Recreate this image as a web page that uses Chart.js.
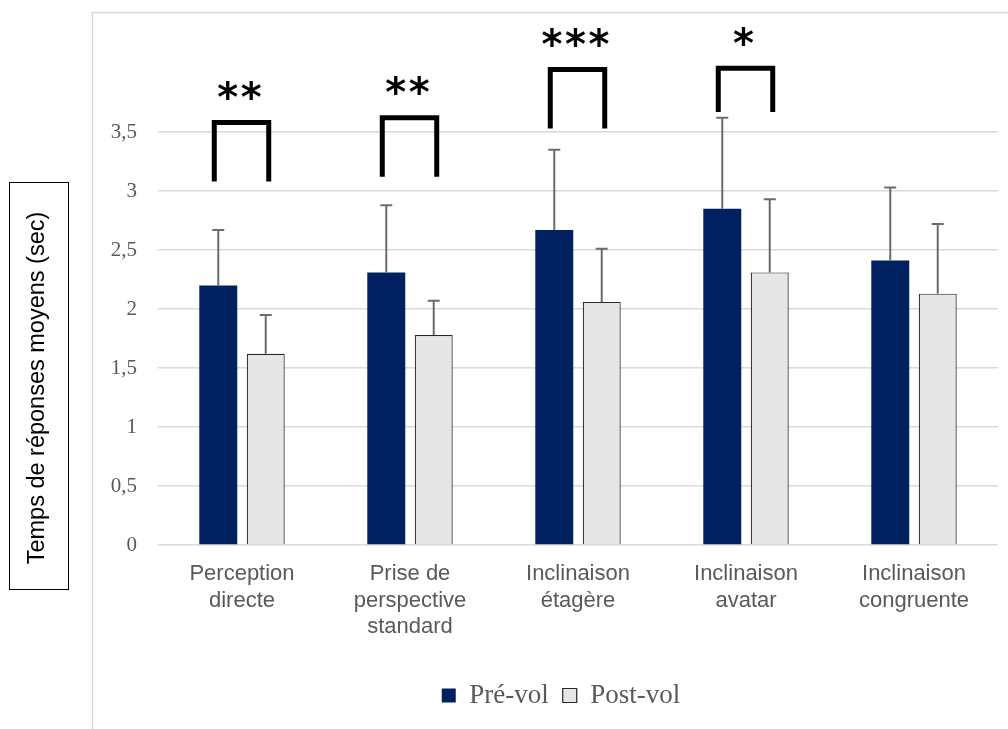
<!DOCTYPE html>
<html>
<head>
<meta charset="utf-8">
<script src="https://cdn.jsdelivr.net/npm/chart.js@4"></script>
<style>
  html, body { margin: 0; padding: 0; background: #fff; }
  #wrap { width: 1008px; height: 729px; position: relative; }
</style>
</head>
<body>
<div id="wrap"><canvas id="chart" width="1008" height="729"></canvas></div>
<script>
const categories = [
  ['Perception', 'directe'],
  ['Prise de', 'perspective', 'standard'],
  ['Inclinaison', 'étagère'],
  ['Inclinaison', 'avatar'],
  ['Inclinaison', 'congruente']
];
const preVol = [2.20, 2.31, 2.67, 2.85, 2.41];
const postVol = [1.62, 1.78, 2.06, 2.31, 2.13];
const preVolSd = [0.47, 0.57, 0.68, 0.77, 0.62];
const postVolSd = [0.33, 0.29, 0.45, 0.62, 0.59];
const yTicks = [0, 0.5, 1, 1.5, 2, 2.5, 3, 3.5];
const axisTitle = 'Temps de réponses moyens (sec)';

// significance brackets: category, leg bottom, bar top, stars
const sigCategory = [0, 1, 2, 3];
const sigLow = [3.08, 3.12, 3.53, 3.67];
const sigHigh = [3.58, 3.62, 4.03, 4.04];
const sigStars = ['**', '**', '***', '*'];

const NAVY = '#002060';
const LIGHT = '#e6e6e6';
const GRID = '#d9d9d9';
const TEXT = '#595959';

// frame around the plot and the boxed y title
const decorations = {
  id: 'decorations',
  afterLayout(chart) {
    // legend sits a little right of the canvas centre
    chart.legend.left += 16;
    chart.legend.right += 16;
  },
  beforeDraw(chart) {
    const ctx = chart.ctx;
    ctx.save();
    ctx.strokeStyle = GRID;
    ctx.lineWidth = 1.5;
    ctx.beginPath();
    ctx.moveTo(92.5, 729);
    ctx.lineTo(92.5, 12.5);
    ctx.lineTo(1008, 12.5);
    ctx.stroke();

    ctx.strokeStyle = '#000';
    ctx.lineWidth = 1;
    ctx.strokeRect(9.5, 182.5, 59, 407);
    ctx.translate(38, 388);
    ctx.rotate(-Math.PI / 2);
    ctx.fillStyle = '#000';
    ctx.font = '23.5px "Liberation Sans", Arial, sans-serif';
    ctx.textAlign = 'center';
    ctx.textBaseline = 'middle';
    ctx.fillText(axisTitle, 0, 0);
    ctx.restore();
  }
};

// upper error bars and significance brackets
const annotations = {
  id: 'annotations',
  afterDatasetsDraw(chart) {
    const ctx = chart.ctx;
    const y = chart.scales.y;
    const sds = [preVolSd, postVolSd];
    ctx.save();
    ctx.strokeStyle = '#6b6b6b';
    ctx.lineWidth = 2;
    chart.data.datasets.forEach((ds, di) => {
      chart.getDatasetMeta(di).data.forEach((bar, i) => {
        const top = y.getPixelForValue(ds.data[i] + sds[di][i]);
        ctx.beginPath();
        ctx.moveTo(bar.x, bar.y);
        ctx.lineTo(bar.x, top);
        ctx.moveTo(bar.x - 6, top);
        ctx.lineTo(bar.x + 6, top);
        ctx.stroke();
      });
    });

    const pre = chart.getDatasetMeta(0).data;
    const post = chart.getDatasetMeta(1).data;
    ctx.strokeStyle = '#000';
    ctx.lineWidth = 5;
    ctx.fillStyle = '#000';
    ctx.font = 'bold 40px "DejaVu Sans", sans-serif';
    ctx.textAlign = 'center';
    ctx.textBaseline = 'middle';
    sigCategory.forEach((c, k) => {
      const x1 = pre[c].x - 4;
      const x2 = post[c].x + 3;
      const yLow = y.getPixelForValue(sigLow[k]);
      const yHigh = y.getPixelForValue(sigHigh[k]);
      ctx.beginPath();
      ctx.moveTo(x1, yLow);
      ctx.lineTo(x1, yHigh);
      ctx.lineTo(x2, yHigh);
      ctx.lineTo(x2, yLow);
      ctx.stroke();
      const n = sigStars[k].length;
      const cx = (x1 + x2) / 2 - 2;
      for (let s = 0; s < n; s++) {
        ctx.fillText('*', cx + (s - (n - 1) / 2) * 23.5, yHigh - 22);
      }
    });
    ctx.restore();
  }
};

new Chart(document.getElementById('chart'), {
  type: 'bar',
  data: {
    labels: categories,
    datasets: [
      {
        label: 'Pré-vol',
        data: preVol,
        backgroundColor: NAVY,
        borderWidth: 0,
        categoryPercentage: 0.565,
        barPercentage: 0.8
      },
      {
        label: 'Post-vol',
        data: postVol,
        backgroundColor: LIGHT,
        borderColor: '#262626',
        borderWidth: 1.2,
        categoryPercentage: 0.565,
        barPercentage: 0.8
      }
    ]
  },
  options: {
    responsive: false,
    animation: false,
    layout: { padding: { top: 14, right: 10, left: 92, bottom: 10 } },
    plugins: {
      tooltip: { enabled: false },
      legend: {
        position: 'bottom',
        labels: {
          color: TEXT,
          font: { family: '"Liberation Serif", "Times New Roman", serif', size: 27 },
          boxWidth: 14,
          boxHeight: 14,
          padding: 14
        }
      }
    },
    scales: {
      x: {
        grid: { display: false },
        border: { display: false },
        ticks: {
          color: TEXT,
          padding: 8,
          maxRotation: 0,
          font: { family: '"Liberation Sans", Arial, sans-serif', size: 22, lineHeight: 1.2 }
        },
        afterFit(scale) { scale.height = 123; }
      },
      y: {
        min: 0,
        max: 4.5,
        afterBuildTicks(scale) { scale.ticks = yTicks.map(v => ({ value: v })); },
        afterFit(scale) {
          scale.width = 66;
          scale.paddingTop = 0;
          scale.paddingBottom = 0;
        },
        grid: { color: GRID, lineWidth: 1.5, drawTicks: false },
        border: { display: false },
        ticks: {
          color: TEXT,
          padding: 21,
          font: { family: '"Liberation Serif", "Times New Roman", serif', size: 21 },
          callback: v => String(v).replace('.', ',')
        }
      }
    }
  },
  plugins: [decorations, annotations]
});
</script>
</body>
</html>
